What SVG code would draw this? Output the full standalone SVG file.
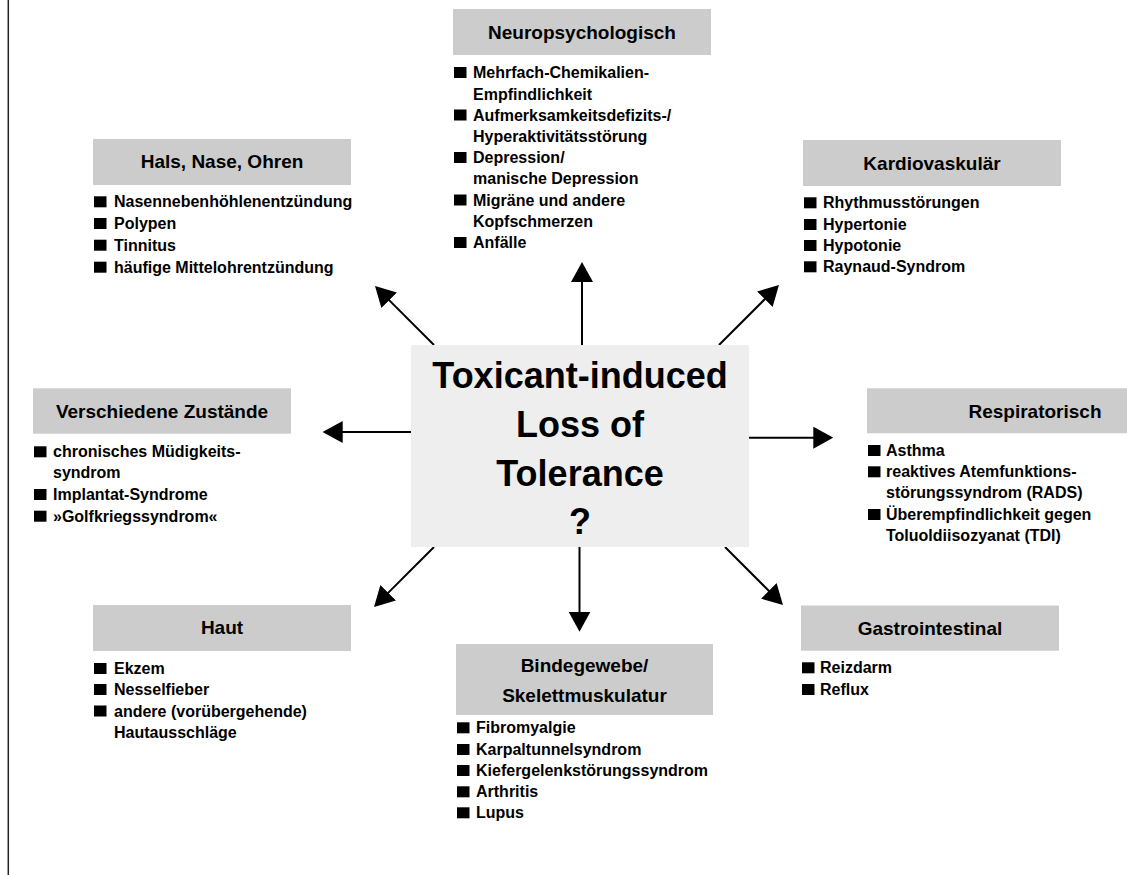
<svg xmlns="http://www.w3.org/2000/svg" width="1127" height="875" viewBox="0 0 1127 875">
<defs>
<style>
.box{fill:#cccccc}
.center{fill:#eeeeee}
.title{font-family:"Liberation Sans",Arial,sans-serif;font-weight:bold;font-size:19px;fill:#000;text-anchor:middle}
.item{font-family:"Liberation Sans",Arial,sans-serif;font-weight:bold;font-size:16px;fill:#000}
.big{font-family:"Liberation Sans",Arial,sans-serif;font-weight:bold;font-size:36px;fill:#000;text-anchor:middle}
.bul{fill:#000}
.conn line{stroke:#000;stroke-width:2;marker-end:url(#ah)}
</style>
<marker id="ah" markerUnits="userSpaceOnUse" markerWidth="20" markerHeight="22" refX="10" refY="11" orient="auto">
<path d="M0,0 L20,11 L0,22 z" fill="#000"/>
</marker>
</defs>
<rect width="1127" height="875" fill="#fff"/>
<line x1="8.3" y1="0" x2="8.3" y2="875" stroke="#222" stroke-width="1.5"/>

<g id="connectors" class="conn">
<line x1="582" y1="345" x2="582" y2="272"/>
<line x1="411" y1="432" x2="332.7" y2="432"/>
<line x1="749" y1="437.7" x2="823.3" y2="437.7"/>
<line x1="579.5" y1="547" x2="579.5" y2="621.7"/>
<line x1="434" y1="345" x2="382.1" y2="293.1"/>
<line x1="719" y1="345" x2="771.9" y2="292.1"/>
<line x1="434" y1="547" x2="381.1" y2="599.9"/>
<line x1="725" y1="547" x2="775.9" y2="597.9"/>
</g>

<g id="center">
<rect class="center" x="411" y="345" width="338" height="202"/>
<text class="big" x="580" y="388">Toxicant-induced</text>
<text class="big" x="580" y="437">Loss of</text>
<text class="big" x="580" y="486">Tolerance</text>
<text class="big" x="580" y="534">?</text>
</g>

<g id="neuro">
<rect class="box" x="453" y="9" width="258" height="46"/>
<text class="title" x="582" y="39">Neuropsychologisch</text>
<rect class="bul" x="454" y="67" width="12.5" height="11"/>
<text class="item" x="473" y="78">Mehrfach-Chemikalien-</text>
<text class="item" x="473" y="99.5">Empfindlichkeit</text>
<rect class="bul" x="454" y="109.5" width="12.5" height="11"/>
<text class="item" x="473" y="120.5">Aufmerksamkeitsdefizits-/</text>
<text class="item" x="473" y="141.5">Hyperaktivitätsstörung</text>
<rect class="bul" x="454" y="152" width="12.5" height="11"/>
<text class="item" x="473" y="163">Depression/</text>
<text class="item" x="473" y="184">manische Depression</text>
<rect class="bul" x="454" y="194.5" width="12.5" height="11"/>
<text class="item" x="473" y="205.5">Migräne und andere</text>
<text class="item" x="473" y="226.5">Kopfschmerzen</text>
<rect class="bul" x="454" y="237" width="12.5" height="11"/>
<text class="item" x="473" y="248">Anfälle</text>
</g>

<g id="hno">
<rect class="box" x="93" y="139" width="258" height="46"/>
<text class="title" x="222" y="168">Hals, Nase, Ohren</text>
<rect class="bul" x="94" y="196.3" width="12.5" height="11"/>
<text class="item" x="114" y="207.3">Nasennebenhöhlenentzündung</text>
<rect class="bul" x="94" y="218" width="12.5" height="11"/>
<text class="item" x="114" y="229">Polypen</text>
<rect class="bul" x="94" y="239.7" width="12.5" height="11"/>
<text class="item" x="114" y="250.7">Tinnitus</text>
<rect class="bul" x="94" y="261.7" width="12.5" height="11"/>
<text class="item" x="114" y="272.7">häufige Mittelohrentzündung</text>
</g>

<g id="kardio">
<rect class="box" x="803" y="140" width="258" height="46"/>
<text class="title" x="932" y="170">Kardiovaskulär</text>
<rect class="bul" x="804" y="197.3" width="12.5" height="11"/>
<text class="item" x="823" y="208.3">Rhythmusstörungen</text>
<rect class="bul" x="804" y="219" width="12.5" height="11"/>
<text class="item" x="823" y="230">Hypertonie</text>
<rect class="bul" x="804" y="240" width="12.5" height="11"/>
<text class="item" x="823" y="251">Hypotonie</text>
<rect class="bul" x="804" y="261.3" width="12.5" height="11"/>
<text class="item" x="823" y="272.3">Raynaud-Syndrom</text>
</g>

<g id="verschiedene">
<rect class="box" x="33" y="388.3" width="258" height="45.4"/>
<text class="title" x="162" y="418.3">Verschiedene Zustände</text>
<rect class="bul" x="34" y="446.3" width="12.5" height="11"/>
<text class="item" x="53" y="457.3">chronisches Müdigkeits-</text>
<text class="item" x="53" y="478.3">syndrom</text>
<rect class="bul" x="34" y="489" width="12.5" height="11"/>
<text class="item" x="53" y="500">Implantat-Syndrome</text>
<rect class="bul" x="34" y="510.7" width="12.5" height="11"/>
<text class="item" x="53" y="521.7">»Golfkriegssyndrom«</text>
</g>

<g id="respiratorisch">
<rect class="box" x="867" y="388.3" width="260" height="45"/>
<text class="title" x="1035" y="417.7">Respiratorisch</text>
<rect class="bul" x="868" y="445" width="12.5" height="11"/>
<text class="item" x="886" y="456">Asthma</text>
<rect class="bul" x="868" y="466.3" width="12.5" height="11"/>
<text class="item" x="886" y="477.3">reaktives Atemfunktions-</text>
<text class="item" x="886" y="498.3">störungssyndrom (RADS)</text>
<rect class="bul" x="868" y="509" width="12.5" height="11"/>
<text class="item" x="886" y="520">Überempfindlichkeit gegen</text>
<text class="item" x="886" y="541.3">Toluoldiisozyanat (TDI)</text>
</g>

<g id="haut">
<rect class="box" x="93" y="605" width="258" height="46"/>
<text class="title" x="222" y="634.3">Haut</text>
<rect class="bul" x="94" y="663" width="12.5" height="11"/>
<text class="item" x="114" y="674">Ekzem</text>
<rect class="bul" x="94" y="684" width="12.5" height="11"/>
<text class="item" x="114" y="695">Nesselfieber</text>
<rect class="bul" x="94" y="705.5" width="12.5" height="11"/>
<text class="item" x="114" y="716.5">andere (vorübergehende)</text>
<text class="item" x="114" y="737.5">Hautausschläge</text>
</g>

<g id="bindegewebe">
<rect class="box" x="456" y="644" width="257" height="71"/>
<text class="title" x="584.5" y="672.3">Bindegewebe/</text>
<text class="title" x="584.5" y="702.3">Skelettmuskulatur</text>
<rect class="bul" x="457" y="722.3" width="12.5" height="11"/>
<text class="item" x="476" y="733.3">Fibromyalgie</text>
<rect class="bul" x="457" y="744" width="12.5" height="11"/>
<text class="item" x="476" y="755">Karpaltunnelsyndrom</text>
<rect class="bul" x="457" y="765" width="12.5" height="11"/>
<text class="item" x="476" y="776">Kiefergelenkstörungssyndrom</text>
<rect class="bul" x="457" y="786.3" width="12.5" height="11"/>
<text class="item" x="476" y="797.3">Arthritis</text>
<rect class="bul" x="457" y="807.3" width="12.5" height="11"/>
<text class="item" x="476" y="818.3">Lupus</text>
</g>

<g id="gastro">
<rect class="box" x="801" y="605.5" width="258" height="45.2"/>
<text class="title" x="930" y="635">Gastrointestinal</text>
<rect class="bul" x="802" y="662.3" width="12.5" height="11"/>
<text class="item" x="820" y="673.3">Reizdarm</text>
<rect class="bul" x="802" y="684" width="12.5" height="11"/>
<text class="item" x="820" y="695">Reflux</text>
</g>
</svg>
